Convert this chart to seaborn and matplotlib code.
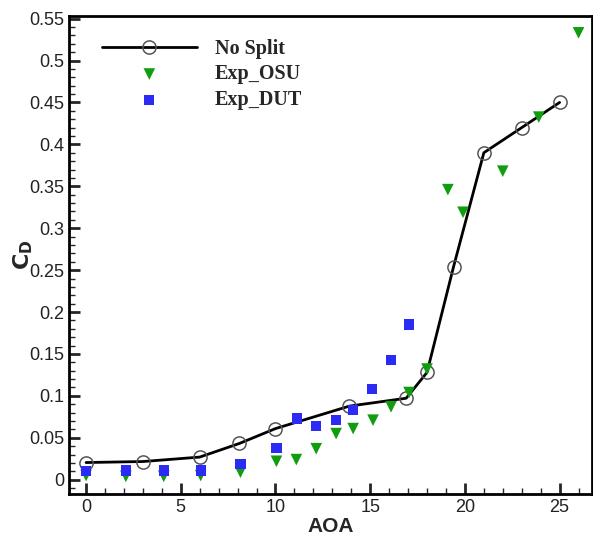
import numpy as np
import pandas as pd
import matplotlib
matplotlib.use("Agg")
import matplotlib.pyplot as plt
import seaborn as sns
from matplotlib.ticker import MultipleLocator, FuncFormatter

# --- data ---
nosplit_aoa = [0, 3, 6, 8.1, 10, 13.9, 16.9, 18, 19.4, 21, 23, 25]
nosplit_cd = [0.0205, 0.0217, 0.027, 0.0433, 0.061, 0.0878, 0.0972, 0.128, 0.254, 0.390, 0.420, 0.450]

osu_aoa = [0, 2.1, 4.1, 6.05, 8.15, 10.05, 11.1, 12.15, 13.2, 14.1, 15.15, 16.1, 17.05, 18, 19.1, 19.9, 22, 23.9, 26]
osu_cd = [0.005, 0.004, 0.004, 0.005, 0.009, 0.022, 0.024, 0.037, 0.055, 0.061, 0.071, 0.087, 0.104, 0.132, 0.346, 0.319, 0.368, 0.4325, 0.533]

dut_aoa = [0, 2.1, 4.1, 6.05, 8.15, 10.05, 11.15, 12.15, 13.2, 14.1, 15.1, 16.1, 17.05]
dut_cd = [0.0106, 0.011, 0.011, 0.011, 0.0185, 0.038, 0.073, 0.064, 0.071, 0.0835, 0.108, 0.1425, 0.185]

sns.set_style("white")
plt.rcParams["font.family"] = ["Liberation Sans", "DejaVu Sans"]

fig = plt.figure(figsize=(5.93, 5.36), dpi=100)
ax = fig.add_axes([0.1164, 0.0784, 0.8816, 0.8916])

sns.lineplot(x=nosplit_aoa, y=nosplit_cd, ax=ax, color="black", lw=2.0,
             marker="o", markersize=9.5, markerfacecolor="none",
             markeredgecolor="#555555", markeredgewidth=1.1, label="No Split",
             sort=False, estimator=None)
sns.scatterplot(x=osu_aoa, y=osu_cd, ax=ax, color="#109e10", marker="v", s=70,
                edgecolor="none", label="Exp_OSU", zorder=3)
sns.scatterplot(x=dut_aoa, y=dut_cd, ax=ax, color="#2b2bf5", marker="s", s=55,
                edgecolor="none", label="Exp_DUT", zorder=3)

ax.set_xlim(-0.9, 26.7)
ax.set_ylim(-0.017, 0.553)
ax.xaxis.set_major_locator(MultipleLocator(5))
ax.xaxis.set_minor_locator(MultipleLocator(1))
ax.yaxis.set_major_locator(MultipleLocator(0.05))
ax.yaxis.set_minor_locator(MultipleLocator(0.01))
ax.yaxis.set_major_formatter(FuncFormatter(lambda v, p: f"{v:g}" if abs(v) > 1e-9 else "0"))

for s in ax.spines.values():
    s.set_color("black")
    s.set_linewidth(2)
ax.tick_params(axis="both", which="major", direction="in", length=8, width=2,
               labelsize=13, labelcolor="#222222", top=False, right=False,
               bottom=True, left=True)
ax.tick_params(axis="both", which="minor", direction="in", length=4, width=1,
               top=False, right=False, bottom=True, left=True)

ax.set_xlabel("AOA", fontsize=15, fontweight="bold", labelpad=1)
ax.set_ylabel(r"$\mathbf{C_D}$", fontsize=16, fontweight="bold", labelpad=-4)

leg = ax.legend(loc="upper left", bbox_to_anchor=(0.04, 0.978), frameon=False,
                prop={"family": "Liberation Serif", "weight": "bold", "size": 14.5},
                handlelength=4.7, handletextpad=0.9, labelspacing=0.28,
                borderaxespad=0.2)

fig.savefig("out.png", dpi=100)
